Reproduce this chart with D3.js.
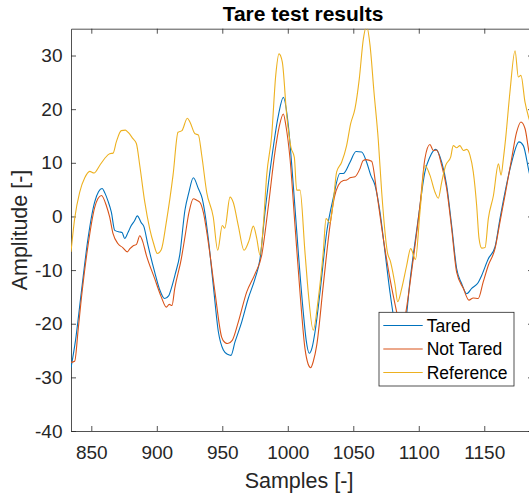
<html>
<head>
  <meta charset="utf-8">
  <title>Tare test results</title>
  <script src="https://d3js.org/d3.v7.min.js"></script>
  <style>
    body { margin: 0; background: #fff; }
    svg { font-family: "Liberation Sans", Arial, sans-serif; }
    .axis text { font-size: 19px; fill: #262626; }
    .axis path, .axis line { stroke: #262626; stroke-width: 0.8; }
  </style>
</head>
<body>
  <svg id="chart" width="529" height="497"></svg>
  <script>
    // data: [sample, amplitude]
    const tared = [
      [834.5, -28.2], [838, -23], [842.4, -14.1], [847.5, -4.1], [852.6, 2.7], [855.5, 4.6], [858.2, 5.2],
      [860.5, 4.3], [862.7, 2.9], [865.3, 0.8], [867.9, -2.6], [871.7, -2.9], [873.5, -3.0], [875.5, -4.1],
      [878, -3.0], [880.5, -1.7], [883, -0.8], [885.1, 0.1], [888.2, -1.2], [890, -1.8], [893.3, -5.4],
      [898.4, -10.4], [902, -13.5], [906, -15.3], [909, -14.8], [911.1, -13.4], [914, -10.8], [917.5, -7.2],
      [921.5, 1.2], [924.5, 4.5], [927.9, 7.2], [931.7, 5.2], [934.7, 3.3], [936.5, 1.0], [939.3, -4.1],
      [943.1, -12.8], [947, -21.5], [950.8, -24.9], [954, -25.7], [956.6, -25.9], [959.7, -23.4], [964.8, -19.7],
      [969.8, -15.3], [975, -11.6], [978.8, -7.9], [982.6, 0.8], [987.7, 10.8], [992.8, 18.8], [996.6, 22.2],
      [1000.4, 17.0], [1004.2, 5.8], [1008, -6.6], [1011.8, -17.8], [1014, -23], [1016.4, -25.5], [1018.5, -24.5],
      [1020.8, -21.5], [1024.6, -14.1], [1029.7, -2.9], [1034.7, 3.4], [1039.8, 8.0], [1042.4, 8.0], [1047.5, 10.1],
      [1052.1, 12.1], [1056.4, 12.0], [1060.2, 10.1], [1063.3, 7.7], [1066.6, 5.8], [1070.4, 0.8], [1074.2, -6.6],
      [1078, -14.1], [1081, -19], [1084, -22], [1087, -21.5], [1090, -19.5], [1093.3, -12], [1097, -5],
      [1099.6, -0.4], [1104.7, 8.3], [1108.5, 11.1], [1112.9, 12.5], [1117.5, 10.1], [1121.3, 5.8], [1125.1, -1.7],
      [1128.9, -9.7], [1132.7, -12.5], [1136.6, -14.4], [1140.4, -13.4], [1145.4, -12.3], [1148, -11.0], [1153.1, -7.9],
      [1158.2, -5.7], [1162, -0.4], [1165.8, 4.5], [1170.9, 10.1], [1176.5, 13.9], [1179.8, 13.2], [1184.2, 8.3], [1187, 5.5]
    ];

    const notTared = [
      [834.5, -27.2], [837.3, -27.0], [840, -21], [842.4, -15.3], [847.5, -5.4], [852.6, 1.7], [855, 3.3],
      [857.7, 3.9], [861.5, 2.0], [864, -0.1], [866.6, -3.2], [870.4, -5.1], [874, -5.8], [877.5, -6.6],
      [879.5, -6.0], [881.8, -5.5], [884.5, -5.2], [887, -3.6], [889, -4.5], [892, -7.2], [898.4, -11.6],
      [903.4, -15.0], [907.3, -16.9], [909.5, -16.4], [911.6, -16.6], [913.7, -13.4], [918.7, -7.9], [921.5, -3.8],
      [924.6, 0.8], [927.9, 3.3], [930.5, 3.0], [933, 2.6], [935.5, 0.8], [939.3, -4.8], [944.4, -14.1],
      [949.5, -22.5], [952, -23.5], [954.1, -23.7], [957.6, -23.1], [962.2, -19.7], [968.6, -14.1], [975, -10.7],
      [980.1, -7.2], [985.2, 2.0], [990.2, 12.0], [993.5, 16.8], [996.6, 19.1], [998.5, 17], [1001.7, 10.8],
      [1005.5, -1.7], [1009.3, -14.1], [1013.1, -24.6], [1015.5, -27.5], [1017.5, -28.2], [1019.5, -27],
      [1022.1, -24.0], [1027.1, -12.8], [1032.2, -1.7], [1035.5, 3.5], [1038.6, 5.8], [1042.4, 6.7], [1045, 6.8],
      [1047.5, 7.2], [1051.3, 7.4], [1055.1, 8.9], [1057.5, 10.4], [1059.7, 10.6], [1064, 10.3], [1067.9, 4.5],
      [1072.9, -4.1], [1078, -11.6], [1083.1, -17.8], [1086, -21], [1088, -21], [1090.2, -17.8], [1095.8, -7.9],
      [1100.9, 2], [1104.7, 10.8], [1108.5, 13.4], [1111.1, 12.3], [1113.7, 12.4], [1117.5, 9.5], [1121.3, 5.2],
      [1125.1, -2.3], [1128.9, -10.4], [1134, -13.4], [1138.3, -15.6], [1141.6, -15.2], [1145.4, -15.3],
      [1149.2, -12.2], [1153.1, -9.1], [1158.2, -6.0], [1162, -1.0], [1165.8, 3.9], [1170.9, 10.8], [1174.7, 15.7],
      [1178, 17.6], [1181.1, 16.4], [1184.2, 12.0], [1187, 9.5]
    ];

    const reference = [
      [834.5, -6.6], [837.3, -0.4], [841.1, 4.5], [845, 7.2], [848.8, 8.4], [852.1, 8.1], [856.4, 9.5],
      [860.2, 10.8], [864, 11.7], [866.6, 11.8], [869.1, 13.9], [872.9, 16.0], [876, 16.1], [878, 15.7],
      [881.8, 14.5], [884.4, 13.6], [887, 9.5], [890.8, 2.7], [894.6, -2.3], [897.5, -5.0], [900.4, -6.9],
      [903.4, -6.2], [907.3, -1.0], [912.4, 7.7], [916.2, 15.7], [919.2, 16.0], [923.3, 18.3], [925.3, 17.6],
      [929.2, 15.4], [931.7, 15.2], [934.3, 11.4], [938.1, 4.5], [943.1, -0.1], [946.5, -6.3], [950, -1.7],
      [951.9, -2.2], [955.9, 3.6], [958.4, 2.6], [962.2, -1.7], [966.6, -6.3], [970.4, -4.5], [973.7, -1.8],
      [976.3, -4.1], [978.8, -7.2], [981.3, -1.7], [983.9, 7.7], [987.7, 15.1], [990.8, 26.3], [993.3, 30.3],
      [995.8, 28.8], [999.2, 18.8], [1002.4, 12.9], [1005, 11], [1006.8, 4.9], [1009.3, 4.9], [1013.1, -6.6],
      [1015.6, -14.1], [1019.4, -21.2], [1023.3, -15.3], [1027.1, -6.6], [1029.2, -0.4], [1032.2, -1.2],
      [1034.7, 2.7], [1037.3, 8.3], [1041.1, 10.1], [1044.9, 13.2], [1048, 17.3], [1051.3, 20.1], [1054.6, 25.7],
      [1057.7, 33.1], [1060.2, 35.5], [1062.8, 31.9], [1065.8, 23.2], [1069.1, 14.2], [1071.7, 4.5], [1076, -6.6],
      [1078.5, -8.5], [1081.8, -12.6], [1083.9, -15.9], [1087, -13.4], [1090.8, -9.1], [1093.8, -6.0],
      [1097.5, -8.0], [1100.9, 0.8], [1104.7, 9.5], [1108.5, 7.7], [1112.4, 4.5], [1114.9, 3.4], [1117.5, 6.4],
      [1120.5, 9.5], [1124.4, 11.1], [1126.3, 13.2], [1128.9, 12.8], [1131.4, 13.2], [1134, 12.3], [1136.6, 12.5],
      [1139.1, 11.4], [1141.6, 8.3], [1144.2, 2.0], [1146, -4.1], [1148, -5.9], [1150.6, -5.8], [1153.1, -0.4],
      [1157, 3.9], [1160.8, 9.8], [1162.8, 7.7], [1164.6, 10.8], [1166.3, 14.5], [1169.6, 23.2], [1173.5, 30.9],
      [1176, 26.0], [1178, 26.3], [1181.1, 21.3], [1184.2, 18.2], [1187, 16]
    ];

    const seriesNames = ["Tared", "Not Tared", "Reference"];
    const xTicks = [850, 900, 950, 1000, 1050, 1100, 1150];
    const yTicks = [-40, -30, -20, -10, 0, 10, 20, 30];

    const colors = ["#0072BD", "#D95319", "#EDB120"];

    const plotLeft = 71, plotRight = 533, plotTop = 28.7, plotBottom = 431;

    const x = d3.scaleLinear().domain([834.5, 1187.2]).range([plotLeft, plotRight]);
    const y = d3.scaleLinear().domain([-40, 35]).range([plotBottom, plotTop]);

    // plain labels: ASCII hyphen, no thousands separator
    const fmt = d => String(d);

    const svg = d3.select("#chart");

    svg.append("defs").append("clipPath").attr("id", "plot-clip")
      .append("rect")
      .attr("x", plotLeft).attr("y", plotTop)
      .attr("width", plotRight - plotLeft).attr("height", plotBottom - plotTop);

    // axes, MATLAB style with inward ticks
    svg.append("g")
      .attr("class", "axis")
      .attr("transform", `translate(0,${plotBottom})`)
      .call(d3.axisBottom(x).tickValues(xTicks).tickFormat(fmt).tickSizeInner(-5).tickSizeOuter(0).tickPadding(15));

    svg.append("g")
      .attr("class", "axis")
      .attr("transform", `translate(0,${plotTop})`)
      .call(d3.axisTop(x).tickValues(xTicks).tickSizeInner(-5).tickSizeOuter(0).tickFormat(""));

    svg.append("g")
      .attr("class", "axis")
      .attr("transform", `translate(${plotLeft},0)`)
      .call(d3.axisLeft(y).tickValues(yTicks).tickFormat(fmt).tickSizeInner(-5).tickSizeOuter(0).tickPadding(8.5));

    svg.append("g")
      .attr("class", "axis")
      .attr("transform", `translate(${plotRight},0)`)
      .call(d3.axisRight(y).tickValues(yTicks).tickSizeInner(-5).tickSizeOuter(0).tickFormat(""));

    // lines
    const line = d3.line()
      .x(d => x(d[0]))
      .y(d => y(d[1]))
      .curve(d3.curveMonotoneX);

    const plot = svg.append("g").attr("clip-path", "url(#plot-clip)");
    [tared, notTared, reference].forEach((s, i) => {
      plot.append("path")
        .datum(s)
        .attr("d", line)
        .attr("fill", "none")
        .attr("stroke", colors[i])
        .attr("stroke-width", 1.1);
    });

    // legend
    const legend = svg.append("g");
    legend.append("rect")
      .attr("x", 379).attr("y", 312.3)
      .attr("width", 135).attr("height", 73.7)
      .attr("fill", "#fff")
      .attr("stroke", "#262626")
      .attr("stroke-width", 0.8);

    const rowY = [325.5, 349, 372.5];
    seriesNames.forEach((name, i) => {
      legend.append("line")
        .attr("x1", 383.3).attr("x2", 422.7)
        .attr("y1", rowY[i]).attr("y2", rowY[i])
        .attr("stroke", colors[i])
        .attr("stroke-width", 1.1);
      legend.append("text")
        .attr("x", 426.7).attr("y", rowY[i])
        .attr("dy", "0.35em")
        .attr("font-size", "17.5px")
        .attr("fill", "#000")
        .text(name);
    });

    // title and labels
    svg.append("text")
      .attr("x", 303).attr("y", 20.7)
      .attr("text-anchor", "middle")
      .attr("font-size", "21px")
      .attr("font-weight", "bold")
      .attr("fill", "#000")
      .text("Tare test results");

    svg.append("text")
      .attr("x", 299).attr("y", 488)
      .attr("text-anchor", "middle")
      .attr("font-size", "21.5px")
      .attr("fill", "#262626")
      .text("Samples [-]");

    svg.append("text")
      .attr("transform", "translate(26.5,230) rotate(-90)")
      .attr("text-anchor", "middle")
      .attr("font-size", "21.5px")
      .attr("fill", "#262626")
      .text("Amplitude [-]");
  </script>
</body>
</html>
